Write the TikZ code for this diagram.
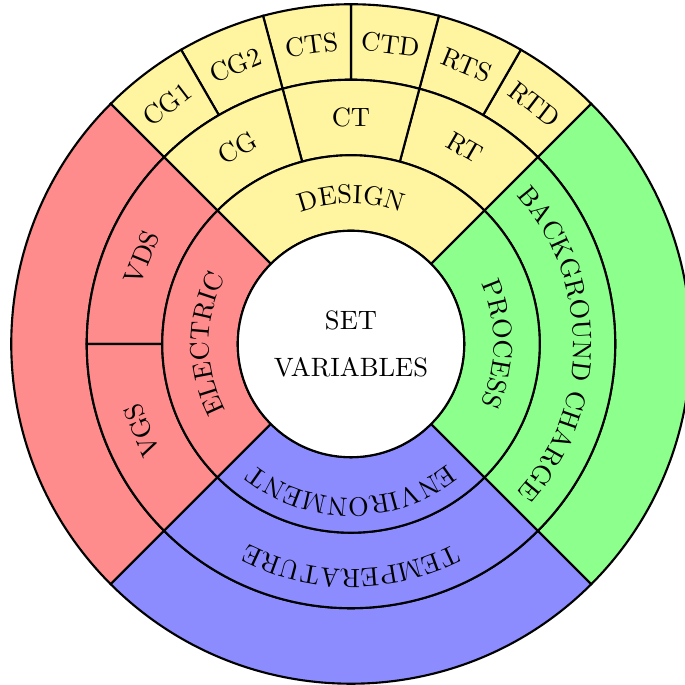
\documentclass[tikz,border=0pt]{standalone}
\usetikzlibrary{decorations.text}
\definecolor{designyellow}{RGB}{255,245,160}

\newcommand{\ringpart}[5]{%
  \filldraw[fill=#5] (#3:#1) arc[start angle=#3, end angle=#4, radius=#1]
    -- (#4:#2) arc[start angle=#4, end angle=#3, radius=#2] -- cycle;}
\newcommand{\arclabel}[4]{%
  \path[decorate, decoration={text along path, text={#4}, text align=center}]
    (#2:#1) arc[start angle=#2, end angle=#3, radius=#1];}

\begin{document}
\begin{tikzpicture}[thick]
    \useasboundingbox (-4.649,-4.517) rectangle (4.411,4.556);

    % outer ring
    \ringpart{3.5}{4.5}{135}{225}{red!45}
    \ringpart{3.5}{4.5}{225}{315}{blue!45}
    \ringpart{3.5}{4.5}{-45}{45}{green!45}
    \foreach \a in {45,60,...,120}
        {\ringpart{3.5}{4.5}{\a}{\a+15}{designyellow}}

    % middle ring
    \ringpart{2.5}{3.5}{135}{180}{red!45}
    \ringpart{2.5}{3.5}{180}{225}{red!45}
    \ringpart{2.5}{3.5}{225}{315}{blue!45}
    \ringpart{2.5}{3.5}{-45}{45}{green!45}
    \foreach \a in {45,75,105}
        {\ringpart{2.5}{3.5}{\a}{\a+30}{designyellow}}

    % inner ring
    \ringpart{1.5}{2.5}{135}{225}{red!45}
    \ringpart{1.5}{2.5}{225}{315}{blue!45}
    \ringpart{1.5}{2.5}{-45}{45}{green!45}
    \ringpart{1.5}{2.5}{45}{135}{designyellow}

    \filldraw[fill=white] (0,0) circle (1.5);
    \node[align=center] (set) at (0,0) {SET\\[6pt]VARIABLES};

    \arclabel{1.86}{160}{20}{DESIGN}
    \arclabel{1.88}{255}{105}{ELECTRIC}
    \arclabel{1.90}{70}{-70}{PROCESS}
    \arclabel{2.04}{-20}{-160}{ENVIRONMENT}
    \arclabel{2.95}{75}{-75}{BACKGROUND CHARGE}
    \arclabel{2.98}{-20}{-160}{TEMPERATURE}

    \foreach \a/\t in {120/CG, 90/CT, 60/RT, 157.5/VDS, 202.5/VGS}
        \node[rotate=\a-90] (\t) at (\a:3) {\t};
    \foreach \a/\t in {127.5/CG1, 112.5/CG2, 97.5/CTS, 82.5/CTD, 67.5/RTS, 52.5/RTD}
        \node[rotate=\a-90] (\t) at (\a:4) {\t};
\end{tikzpicture}
\end{document}
